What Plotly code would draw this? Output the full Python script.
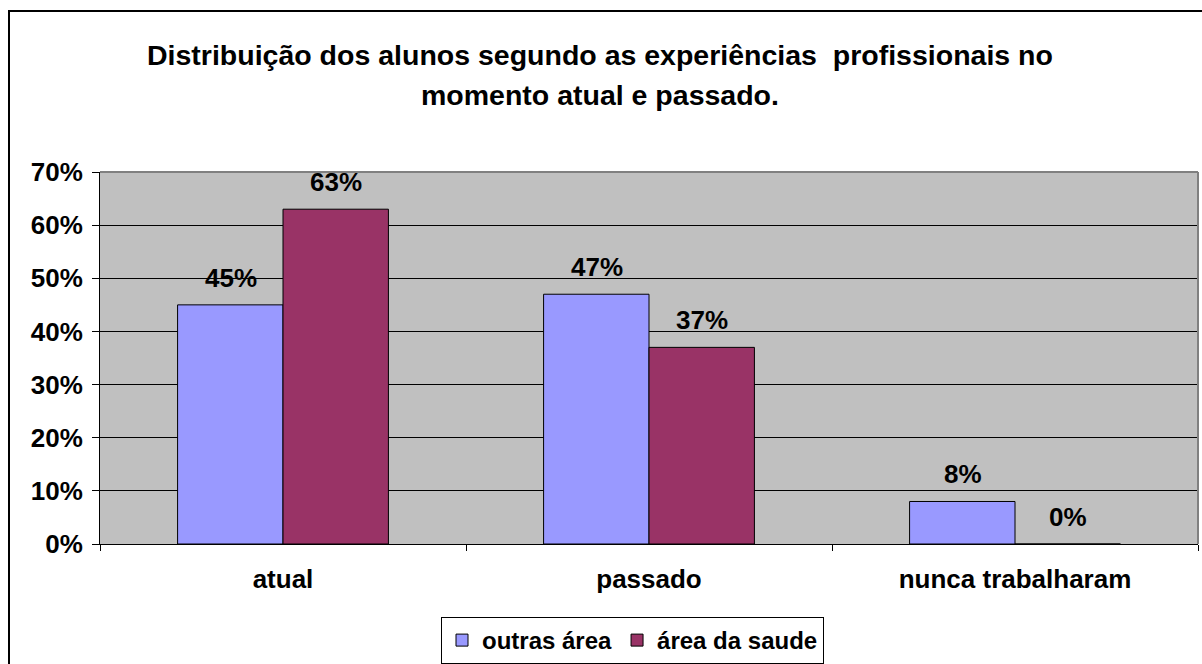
import plotly.graph_objects as go

categories = ["atual", "passado", "nunca trabalharam"]
outras_area = [0.45, 0.47, 0.08]
area_saude = [0.63, 0.37, 0.0]
series_names = ["outras área", "área da saude"]
y_ticks = [0, 0.1, 0.2, 0.3, 0.4, 0.5, 0.6, 0.7]
title_lines = ["Distribuição dos alunos segundo as experiências  profissionais no",
               "momento atual e passado."]

FONT = "Arial, Liberation Sans, sans-serif"
W, H = 1202, 664
L, T = 100, 172
PW, PH = 1098, 372
R, B = W - L - PW, H - T - PH

# window pixel -> paper coordinates (plot area spans x 100..1198, y 172..544)
def px_x(p):
    return (p - L) / PW

def px_y(p):
    return (T + PH - p) / PH

fig = go.Figure()
fig.add_bar(x=categories, y=outras_area, name=series_names[0],
            marker=dict(color="#9999FF", line=dict(color="black", width=1)))
fig.add_bar(x=categories, y=area_saude, name=series_names[1],
            marker=dict(color="#993366", line=dict(color="black", width=1)))

annotations = []
for vals, shift in ((outras_area, -52), (area_saude, 53)):
    for c, v in zip(categories, vals):
        annotations.append(dict(x=c, y=v, xref="x", yref="y", xshift=shift, yshift=27,
                                text=f"{round(v*100)}%", showarrow=False,
                                yanchor="middle",
                                font=dict(family=FONT, size=26, color="black", weight="bold")))
for line, py in zip(title_lines, (55, 95)):
    annotations.append(dict(x=px_x(600), y=px_y(py), xref="paper", yref="paper",
                            text=f"<b>{line}</b>", showarrow=False,
                            xanchor="center", yanchor="middle",
                            font=dict(family=FONT, size=28.5, color="black")))

shapes = [
    dict(type="rect", xref="paper", yref="paper",
         x0=px_x(9), y0=px_y(11), x1=px_x(1230), y1=px_y(700),
         line=dict(color="black", width=2), layer="below"),
    dict(type="line", xref="paper", yref="paper", x0=0, x1=1, y0=1, y1=1,
         line=dict(color="#808080", width=2), layer="above"),
    dict(type="line", xref="paper", yref="paper", x0=1, x1=1, y0=0, y1=1,
         line=dict(color="#808080", width=2), layer="above"),
]

fig.update_layout(
    width=W, height=H,
    margin=dict(l=L, r=R, t=T, b=B, autoexpand=False),
    paper_bgcolor="white", plot_bgcolor="#C0C0C0",
    barmode="group", bargap=0.424, bargroupgap=0,
    font=dict(family=FONT, size=26, color="black", weight="bold"),
    showlegend=True,
    legend=dict(orientation="h", xref="container", yref="container",
                x=441 / W, y=1 - 617 / H, xanchor="left", yanchor="top",
                bordercolor="black", borderwidth=1, bgcolor="white",
                font=dict(family=FONT, size=24, color="black", weight="bold"),
                itemwidth=30, tracegroupgap=0),
    annotations=annotations,
    shapes=shapes,
)
fig.update_xaxes(showline=True, linecolor="black", linewidth=1,
                 ticks="outside", tickson="boundaries", ticklen=6, tickcolor="black",
                 ticklabelstandoff=12, showgrid=False)
fig.update_yaxes(range=[0, 0.7], tickvals=y_ticks, tickformat=".0%",
                 showline=True, linecolor="black", linewidth=1,
                 ticks="outside", ticklen=7, tickcolor="black", ticklabelstandoff=4,
                 showgrid=True, gridcolor="black", gridwidth=1, zeroline=False)

fig.write_html("out.html", config={"displayModeBar": False},
               post_script="document.body.style.margin='0';document.body.style.overflow='hidden';")
